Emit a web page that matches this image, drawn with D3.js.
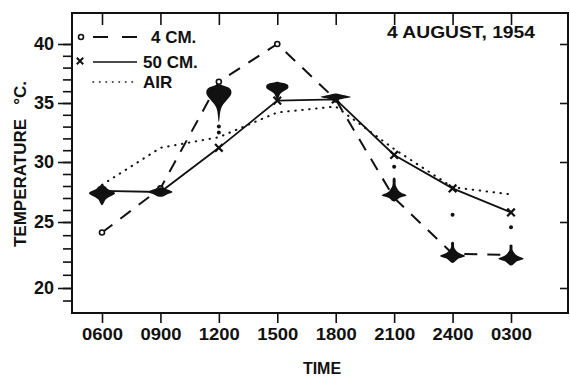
<!DOCTYPE html>
<html>
<head>
<meta charset="utf-8">
<script src="https://cdn.jsdelivr.net/npm/d3@7"></script>
<style>
  html, body { margin: 0; padding: 0; background: #fff; }
  svg text { font-family: "Liberation Sans", Arial, sans-serif; fill: #111; font-weight: bold; }
</style>
</head>
<body>
<div id="chart"></div>
<script>
// --- data (temperature, deg C) ---
const times = ['0600', '0900', '1200', '1500', '1800', '2100', '2400', '0300'];
const cm4 = [24.2, 27.8, 36.8, 40.0, 35.3, 27.0, 22.6, 22.5];
const cm50 = [27.6, 27.5, 31.2, 35.2, 35.3, 30.6, 27.8, 25.8];
const air = [28.1, 31.2, 32.1, 34.2, 34.7, 31.1, 27.9, 27.3];

// the black blobs: top, widest point and bottom of each one
const blobTop = [28.1, 27.9, 36.6, 36.8, 35.8, 28.7, 23.5, 23.3];
const blobMid = [27.4, 27.5, 35.8, 36.3, 35.5, 27.4, 22.6, 22.4];
const blobLow = [26.4, 27.1, 33.4, 35.3, 35.25, 26.7, 21.9, 21.7];
// loose single dots under some blobs
const strayDots = [[], [], [33.0, 32.5], [], [], [29.6], [25.6], [24.6]];

const yMajor = [20, 25, 30, 35, 40];
const yMinor = d3.range(19, 41);
const legendLabels = ['4 CM.', '50 CM.', 'AIR'];
const title = '4 AUGUST, 1954';

const W = 570, H = 378;
const frame = { left: 72, right: 568, top: 13, bottom: 313 };

const svg = d3.select('#chart').append('svg')
    .attr('width', W)
    .attr('height', H);

const x = d3.scalePoint()
    .domain(times)
    .range([102, 511]);

// hand-ruled axis is slightly uneven, so calibrate it piecewise
const y = d3.scaleLinear()
    .domain([18, 20, 25, 30, 35, 40, 42.5])
    .range([313, 288, 222, 162, 103, 44, 13]);

// frame
svg.append('rect')
    .attr('x', frame.left)
    .attr('y', frame.top)
    .attr('width', frame.right - frame.left)
    .attr('height', frame.bottom - frame.top)
    .attr('fill', 'none')
    .attr('stroke', '#111')
    .attr('stroke-width', 2);

function styleAxis(g) {
    g.select('.domain').remove();
    g.selectAll('.tick line').attr('stroke', '#111').attr('stroke-width', 1.6);
    g.selectAll('.tick text').style('font-size', '17px').attr('fill', '#111');
}

// bottom axis
svg.append('g')
    .attr('transform', `translate(0,${frame.bottom})`)
    .call(d3.axisBottom(x).tickSize(10).tickPadding(5))
    .call(styleAxis)
    .call(g => g.selectAll('.tick text').attr('textLength', 41).attr('lengthAdjust', 'spacingAndGlyphs'));

// top ticks, inward
svg.append('g')
    .attr('transform', `translate(0,${frame.top})`)
    .call(d3.axisTop(x).tickSize(-12).tickFormat(''))
    .call(styleAxis);

// left minor ticks
svg.append('g')
    .attr('transform', `translate(${frame.left},0)`)
    .call(d3.axisLeft(y).tickValues(yMinor).tickSize(9).tickFormat(''))
    .call(styleAxis);

// left major ticks + labels
svg.append('g')
    .attr('transform', `translate(${frame.left},0)`)
    .call(d3.axisLeft(y).tickValues(yMajor).tickSize(14).tickPadding(4))
    .call(styleAxis)
    .call(g => g.selectAll('.tick text').style('font-size', '18px'));

// right ticks, inward
svg.append('g')
    .attr('transform', `translate(${frame.right},0)`)
    .call(d3.axisRight(y).tickValues(yMajor).tickSize(-8).tickFormat(''))
    .call(styleAxis);

// axis titles
svg.append('text')
    .attr('x', 322)
    .attr('y', 374)
    .attr('text-anchor', 'middle')
    .style('font-size', '16px')
    .text('TIME');

svg.append('text')
    .attr('transform', 'translate(26,164) rotate(-90)')
    .attr('text-anchor', 'middle')
    .style('font-size', '17px')
    .attr('xml:space', 'preserve')
    .text('TEMPERATURE   °C.');

svg.append('text')
    .attr('x', 387)
    .attr('y', 38)
    .attr('textLength', 148)
    .attr('lengthAdjust', 'spacingAndGlyphs')
    .style('font-size', '17px')
    .text(title);

// series lines
const line = d3.line()
    .x((d, i) => x(times[i]))
    .y(d => y(d));

svg.append('path')
    .datum(air)
    .attr('d', line)
    .attr('fill', 'none')
    .attr('stroke', '#111')
    .attr('stroke-width', 2)
    .attr('stroke-linecap', 'round')
    .attr('stroke-dasharray', '0.5,6.5');

svg.append('path')
    .datum(cm4)
    .attr('d', line)
    .attr('fill', 'none')
    .attr('stroke', '#111')
    .attr('stroke-width', 2)
    .attr('stroke-dasharray', '13,10');

svg.append('path')
    .datum(cm50)
    .attr('d', line)
    .attr('fill', 'none')
    .attr('stroke', '#111')
    .attr('stroke-width', 1.8);

// markers
svg.append('g').selectAll('circle')
    .data(cm4)
    .join('circle')
    .attr('cx', (d, i) => x(times[i]))
    .attr('cy', d => y(d))
    .attr('r', 2.5)
    .attr('fill', '#fff')
    .attr('stroke', '#111')
    .attr('stroke-width', 1.6);

const cross = s => `M${-s},${-s}L${s},${s}M${s},${-s}L${-s},${s}`;

svg.append('g').selectAll('path')
    .data(cm50)
    .join('path')
    .attr('transform', (d, i) => `translate(${x(times[i])},${y(d)})`)
    .attr('d', cross(3.8))
    .attr('stroke', '#111')
    .attr('stroke-width', 2.2);

// blobs: right-hand outline as [fraction of half width, t]
// t: 0 = top, 1 = widest point, 2 = bottom
const blobKinds = {
    knob:  [[0.12, 0.05], [0.45, 0.5], [1, 1], [0.3, 1.5]],
    lens:  [[0.12, 0.05], [0.6, 0.5], [1, 1], [0.55, 1.5]],
    drop:  [[0.12, 0.05], [0.9, 0.5], [1, 1], [0.2, 1.5]],
    cap:   [[0.12, 0.05], [0.95, 0.5], [1, 1], [0.3, 1.5]],
    manta: [[0.1, 0.05], [0.14, 0.5], [0.45, 0.9], [1, 1.25], [0.45, 1.55]]
};
const blobShape = ['knob', 'lens', 'drop', 'cap', 'lens', 'manta', 'manta', 'manta'];
const blobHalf = [13, 12, 12.5, 11, 15, 12.5, 12.5, 12.5];

const blobLine = d3.line().curve(d3.curveCatmullRomClosed.alpha(0.5));

function blobPoints(i) {
    const cx = x(times[i]);
    const yT = y(blobTop[i]), yM = y(blobMid[i]), yB = y(blobLow[i]);
    const ty = d3.scaleLinear().domain([0, 1, 2]).range([yT, yM, yB]);
    const hw = blobHalf[i];
    const right = blobKinds[blobShape[i]].map(p => [p[0] * hw, ty(p[1])]);
    const pts = [[cx, yT]];
    right.forEach(p => pts.push([cx + p[0], p[1]]));
    pts.push([cx, yB]);
    right.slice().reverse().forEach(p => pts.push([cx - p[0], p[1]]));
    return pts;
}

svg.append('g').selectAll('path')
    .data(times)
    .join('path')
    .attr('d', (d, i) => blobLine(blobPoints(i)))
    .attr('fill', '#111');

svg.append('g').selectAll('circle')
    .data(strayDots.flatMap((vals, i) => vals.map(v => ({ t: times[i], v }))))
    .join('circle')
    .attr('cx', d => x(d.t))
    .attr('cy', d => y(d.v))
    .attr('r', 2)
    .attr('fill', '#111');

// legend
const lg = svg.append('g');
lg.append('circle')
    .attr('cx', 81).attr('cy', 37).attr('r', 2.5)
    .attr('fill', '#fff').attr('stroke', '#111').attr('stroke-width', 1.6);
lg.append('line')
    .attr('x1', 93).attr('x2', 138).attr('y1', 37).attr('y2', 37)
    .attr('stroke', '#111').attr('stroke-width', 2).attr('stroke-dasharray', '15,14');
lg.append('path')
    .attr('transform', 'translate(80,61)')
    .attr('d', cross(3.2))
    .attr('stroke', '#111').attr('stroke-width', 2);
lg.append('line')
    .attr('x1', 93).attr('x2', 137).attr('y1', 62).attr('y2', 62)
    .attr('stroke', '#111').attr('stroke-width', 1.6);
lg.append('line')
    .attr('x1', 93).attr('x2', 134).attr('y1', 82).attr('y2', 82)
    .attr('stroke', '#111').attr('stroke-width', 1.6)
    .attr('stroke-linecap', 'round').attr('stroke-dasharray', '0.5,6');

lg.selectAll('text')
    .data(legendLabels)
    .join('text')
    .attr('x', (d, i) => i === 0 ? 151 : 143)
    .attr('y', (d, i) => [43, 68, 88][i])
    .style('font-size', '17px')
    .text(d => d);
</script>
</body>
</html>
